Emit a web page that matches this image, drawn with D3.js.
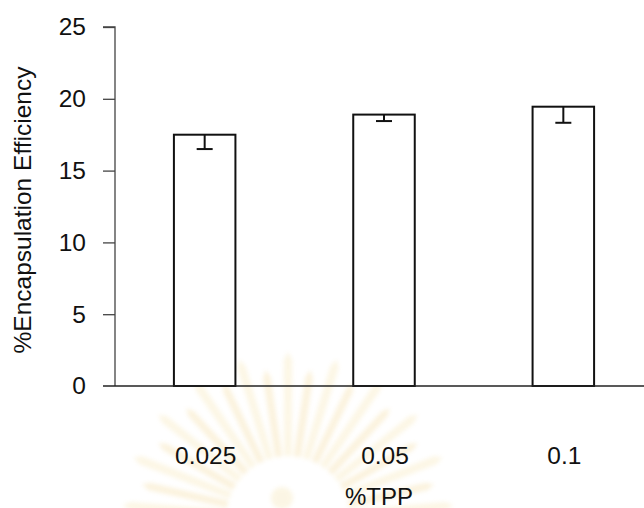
<!DOCTYPE html>
<html>
<head>
<meta charset="utf-8">
<script src="https://cdn.jsdelivr.net/npm/d3@7"></script>
<style>
  html, body { margin: 0; padding: 0; background: #fff; }
  svg { display: block; }
  text { font-family: "Liberation Sans", Arial, sans-serif; fill: #111; }
</style>
</head>
<body>
<svg id="chart" width="644" height="508"></svg>
<script>
// Encapsulation efficiency by TPP concentration (mean, minus-error)
const categories = ["0.025", "0.05", "0.1"];
const efficiency = [17.5, 18.9, 19.45];
const errorMinus = [1.0, 0.45, 1.12];
const yTicks = [0, 5, 10, 15, 20, 25];

const svg = d3.select("#chart");

const margin = { left: 115, right: 653, top: 27, bottom: 386 };

const x = d3.scaleBand()
  .domain(categories)
  .range([margin.left, margin.right])
  .paddingInner(0.657)
  .paddingOuter(0.3285);

const y = d3.scaleLinear()
  .domain([0, 25])
  .range([margin.bottom, margin.top]);

// soft emblem watermark behind the lower labels
const defs = svg.append("defs");
defs.append("filter").attr("id", "soft")
  .attr("x", "-20%").attr("y", "-20%").attr("width", "140%").attr("height", "140%")
  .append("feGaussianBlur").attr("stdDeviation", 2.2);

const wm = svg.append("g").attr("opacity", 0.22).attr("filter", "url(#soft)");
const cx = 288, cy = 518;
const rays = d3.range(0, 21);
wm.selectAll("path.ray")
  .data(rays)
  .join("path")
  .attr("class", "ray")
  .attr("d", i => {
    const a = Math.PI + (i + 0.5) * (Math.PI / 21);
    const w = 0.06;
    const r0 = 62, r1 = 158 - (i % 2) * 16;
    const p = [
      [cx + r0 * Math.cos(a - w), cy + r0 * Math.sin(a - w)],
      [cx + r1 * Math.cos(a - w * 0.45), cy + r1 * Math.sin(a - w * 0.45)],
      [cx + (r1 + 8) * Math.cos(a), cy + (r1 + 8) * Math.sin(a)],
      [cx + r1 * Math.cos(a + w * 0.45), cy + r1 * Math.sin(a + w * 0.45)],
      [cx + r0 * Math.cos(a + w), cy + r0 * Math.sin(a + w)]
    ];
    return d3.line()(p) + "Z";
  })
  .attr("fill", (d, i) => i % 2 ? "#eec86a" : "#f3d98c");
wm.append("circle")
  .attr("cx", cx - 6).attr("cy", 498).attr("r", 11)
  .attr("fill", "#efd587");

// y axis
const yAxis = d3.axisLeft(y).tickValues(yTicks).tickSize(12).tickPadding(17);
const gy = svg.append("g")
  .attr("transform", `translate(${margin.left},0)`)
  .call(yAxis);
gy.select(".domain").attr("stroke", "#444").attr("stroke-width", 1.3)
  .attr("d", `M-12,${y(25)}H0V${y(0)}`);
gy.selectAll(".tick line").attr("stroke", "#444").attr("stroke-width", 1.3);
gy.selectAll(".tick text")
  .style("font-size", "24.5px")
  .attr("fill", "#111");
gy.selectAll(".tick").filter(d => d === 0).select("line").remove();

// bars
svg.selectAll("rect.bar")
  .data(categories)
  .join("rect")
  .attr("class", "bar")
  .attr("x", d => x(d))
  .attr("y", (d, i) => y(efficiency[i]))
  .attr("width", x.bandwidth())
  .attr("height", (d, i) => y(0) - y(efficiency[i]))
  .attr("fill", "#fff")
  .attr("stroke", "#111")
  .attr("stroke-width", 2);

// minus error bars
const eb = svg.selectAll("g.err")
  .data(categories)
  .join("g")
  .attr("class", "err");
eb.append("line")
  .attr("x1", d => x(d) + x.bandwidth() / 2)
  .attr("x2", d => x(d) + x.bandwidth() / 2)
  .attr("y1", (d, i) => y(efficiency[i]))
  .attr("y2", (d, i) => y(efficiency[i] - errorMinus[i]))
  .attr("stroke", "#111").attr("stroke-width", 2);
eb.append("line")
  .attr("x1", d => x(d) + x.bandwidth() / 2 - 8)
  .attr("x2", d => x(d) + x.bandwidth() / 2 + 8)
  .attr("y1", (d, i) => y(efficiency[i] - errorMinus[i]))
  .attr("y2", (d, i) => y(efficiency[i] - errorMinus[i]))
  .attr("stroke", "#111").attr("stroke-width", 2);

// baseline
svg.append("line")
  .attr("x1", margin.left - 12).attr("x2", 644)
  .attr("y1", y(0)).attr("y2", y(0))
  .attr("stroke", "#222").attr("stroke-width", 1.6);

// category labels
svg.selectAll("text.cat")
  .data(categories)
  .join("text")
  .attr("class", "cat")
  .attr("x", d => x(d) + x.bandwidth() / 2 + 1)
  .attr("y", 464)
  .attr("text-anchor", "middle")
  .style("font-size", "24.5px")
  .text(d => d);

// axis titles
svg.append("text")
  .attr("x", 379).attr("y", 505)
  .attr("text-anchor", "middle")
  .style("font-size", "24px")
  .text("%TPP");

svg.append("text")
  .attr("transform", "translate(31,210) rotate(-90)")
  .attr("text-anchor", "middle")
  .style("font-size", "24.5px")
  .text("%Encapsulation Efficiency");
</script>
</body>
</html>
